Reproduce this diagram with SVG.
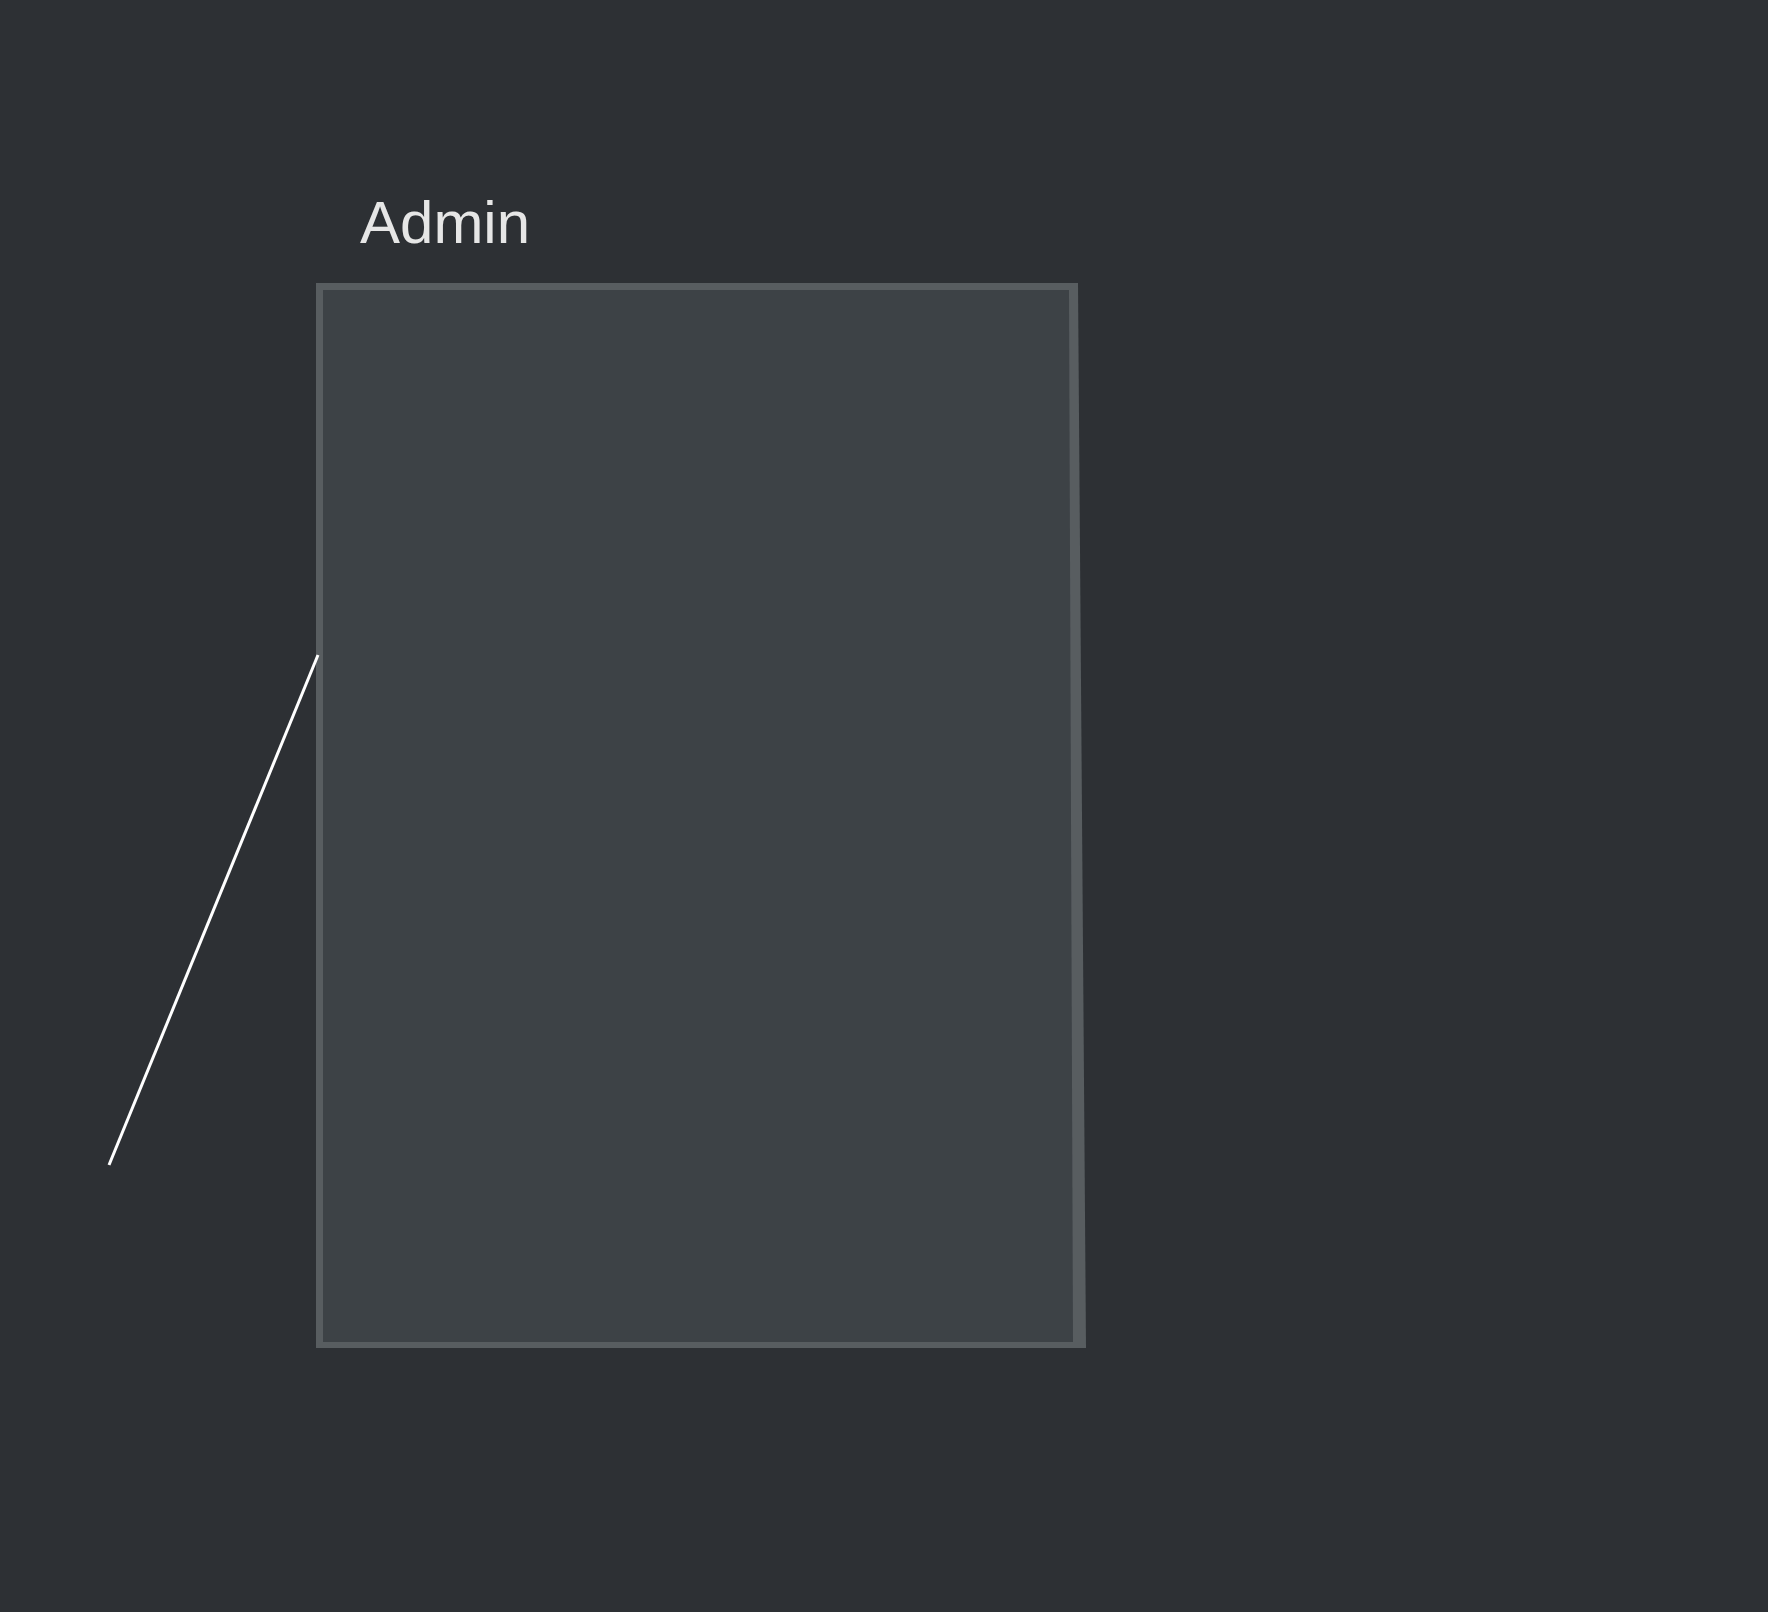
<svg xmlns="http://www.w3.org/2000/svg" width="1768" height="1612" viewBox="0 0 1768 1612">
<style>
.bg{fill:#2d3034}
.frameOuter{fill:#585d60}
.frameInner{fill:#3d4246}
.label{font-family:"Liberation Sans",Arial,sans-serif;font-size:60px;fill:#e6e6e6}
.conn{stroke:#ffffff;stroke-width:3;fill:none}
</style>
<rect class="bg" x="0" y="0" width="1768" height="1612"/>
<g id="admin">
<polygon class="frameOuter" points="316,283 1078,283 1086,1348 316,1348"/>
<polygon class="frameInner" points="323,290 1069,290 1073,1342 323,1342"/>
<text class="label" x="360" y="243">Admin</text>
</g>
<g id="connectors">
<line class="conn" x1="318" y1="655" x2="109" y2="1165"/>
</g>
</svg>
